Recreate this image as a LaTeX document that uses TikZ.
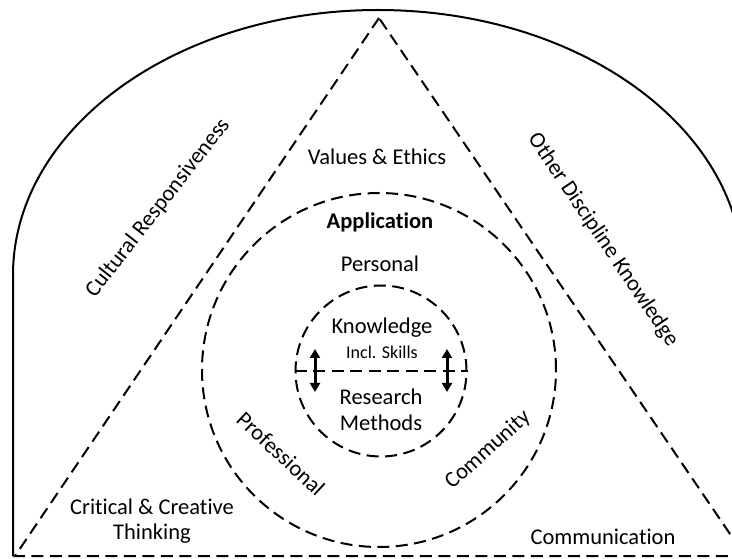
\documentclass[tikz,border=0pt]{standalone}
\usepackage{fontspec}
\setmainfont[Ligatures=NoCommon]{Carlito}
\usetikzlibrary{arrows.meta}

\begin{document}
\begin{tikzpicture}[x=1pt,y=1pt,
	dashline/.style={line width=2pt,dash pattern=on 12pt off 6.5pt},
	lbl/.style={font=\fontsize{22.5}{25.5}\selectfont,align=center,inner sep=0pt},
	updown/.style={line width=3pt,{Triangle[length=9pt,width=10pt]}-{Triangle[length=9pt,width=10pt]}}]
	\useasboundingbox (0,0) rectangle (732,558);
	\clip (0,0) rectangle (732,558);
	\fill[white] (0,0) rectangle (732,558);
	\draw[line width=2pt] (13,2) -- (13,283) arc[start angle=180,end angle=0,x radius=365,y radius=265] -- (743,2);
	\draw[dashline] (379,540) -- (15,2) -- (745,2) -- cycle;
	\node[circle,draw,dashline,minimum size=354pt,inner sep=0pt] (ring) at (379,188) {};
	\node[circle,draw,dashline,minimum size=171pt,inner sep=0pt] (core) at (381,187) {};
	\draw[dashline] (core.west) -- (core.east);
	\draw[updown] (315,166) -- (315,209);
	\draw[updown] (447,166) -- (447,209);
	\node[lbl] (values) at (377,401) {Values \& Ethics};
	\node[lbl,font=\fontsize{22.5}{25.5}\bfseries] (application) at (380,336) {Application};
	\node[lbl] (personal) at (380,294) {Personal};
	\node[lbl] (knowledge) at (382,230) {Knowledge};
	\node[lbl,font=\fontsize{18}{20}\selectfont] (skills) at (382,206) {Incl. Skills};
	\node[lbl] (research) at (381,148) {Research\\Methods};
	\node[lbl,rotate=-43] (professional) at (281,104) {Professional};
	\node[lbl,rotate=42] (community) at (488,108) {Community};
	\node[lbl,rotate=52] (cultural) at (158,350) {Cultural Responsiveness};
	\node[lbl,rotate=-56] (other) at (603,318) {Other Discipline Knowledge};
	\node[lbl] (critical) at (152,37) {Critical \& Creative\\Thinking};
	\node[lbl] (communication) at (603,21) {Communication};
\end{tikzpicture}
\end{document}
